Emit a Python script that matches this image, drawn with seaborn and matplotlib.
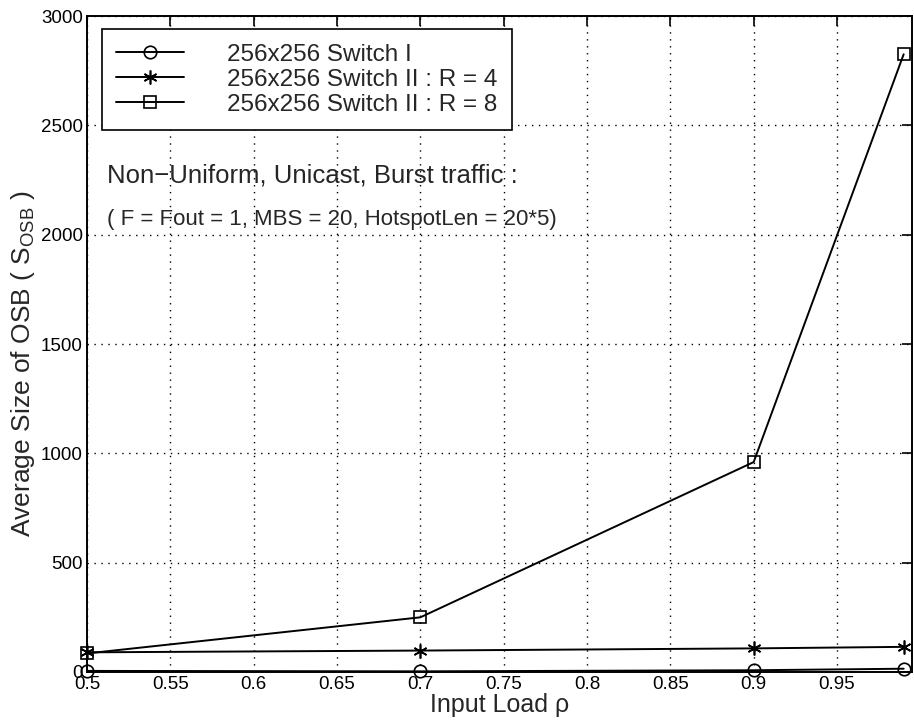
import numpy as np
import pandas as pd
import matplotlib
matplotlib.use("Agg")
import matplotlib.pyplot as plt
import seaborn as sns

# Input load values
load = [0.5, 0.7, 0.9, 0.99]

# Average OSB size per switch configuration
switch_1 = [5, 3, 8, 15]
switch_2_r4 = [90, 98, 108, 115]
switch_2_r8 = [85, 250, 960, 2825]

labels = ["256x256 Switch I", "256x256 Switch II : R = 4", "256x256 Switch II : R = 8"]
# circle, asterisk, square
markers = ["o", (6, 2, 0), "s"]

x_ticks = [0.5, 0.55, 0.6, 0.65, 0.7, 0.75, 0.8, 0.85, 0.9, 0.95]
x_tick_labels = ["0.5", "0.55", "0.6", "0.65", "0.7", "0.75", "0.8", "0.85", "0.9", "0.95"]
y_ticks = [0, 500, 1000, 1500, 2000, 2500, 3000]

sns.set_style("white")
plt.rcParams["font.family"] = ["Liberation Sans", "DejaVu Sans"]
plt.rcParams["mathtext.fontset"] = "custom"
plt.rcParams["mathtext.rm"] = "Liberation Sans"
plt.rcParams["mathtext.it"] = "Liberation Sans"

df = pd.DataFrame({
    "load": load * 3,
    "size": switch_1 + switch_2_r4 + switch_2_r8,
    "series": [labels[0]] * 4 + [labels[1]] * 4 + [labels[2]] * 4,
})

fig = plt.figure(figsize=(9.14, 7.25), dpi=100)
ax = fig.add_axes([87 / 914, 1 - 672 / 725, (912 - 87) / 914, (672 - 16) / 725])

handles = []
for lab, mk in zip(labels, markers):
    sub = df[df["series"] == lab]
    ms = 10 if mk == markers[1] else 9
    sns.lineplot(data=sub, x="load", y="size", ax=ax, color="black", linewidth=1.4,
                 marker=mk, markersize=ms, markerfacecolor="none",
                 markeredgecolor="black", markeredgewidth=1.2, legend=False)
    line = ax.lines[-1]
    line.set_clip_on(False)
    handles.append(line)

ax.set_xlim(0.5, 0.995)
ax.set_ylim(0, 3000)
ax.set_xticks(x_ticks)
ax.set_xticklabels(x_tick_labels)
ax.set_yticks(y_ticks)
ax.tick_params(axis="both", which="both", direction="in", length=7, width=1.2,
               top=True, right=True, labelsize=13.5, colors="black", pad=3)
ax.grid(True, linestyle=(0, (1, 4)), color="black", linewidth=1.0)
for s in ax.spines.values():
    s.set_visible(True)
    s.set_color("black")
    s.set_linewidth(1.4)

ax.set_xlabel(r"Input Load ρ", fontsize=18, labelpad=0)
ax.set_ylabel(r"Average Size of OSB ( S$_{\mathrm{OSB}}$ )", fontsize=19, labelpad=2)
ax.yaxis.set_label_coords(-0.06, 0.47)

leg = ax.legend(handles, labels, loc="upper left", bbox_to_anchor=(0.018, 0.98),
                fontsize=17.5, frameon=True, fancybox=False, edgecolor="black",
                handlelength=2.8, handletextpad=1.75, borderpad=0.6, labelspacing=0.12,
                borderaxespad=0)
leg.get_frame().set_linewidth(1.2)
leg.get_frame().set_facecolor("white")
leg.get_frame().set_alpha(1)

ax.text(0.024, 0.757, "Non\u2212Uniform, Unicast, Burst traffic :", transform=ax.transAxes,
        fontsize=18.5, va="center", ha="left")
ax.text(0.024, 0.69, "( F = Fout = 1, MBS = 20, HotspotLen = 20*5)", transform=ax.transAxes,
        fontsize=16, va="center", ha="left")

fig.savefig("out.png", dpi=100, facecolor="white")
